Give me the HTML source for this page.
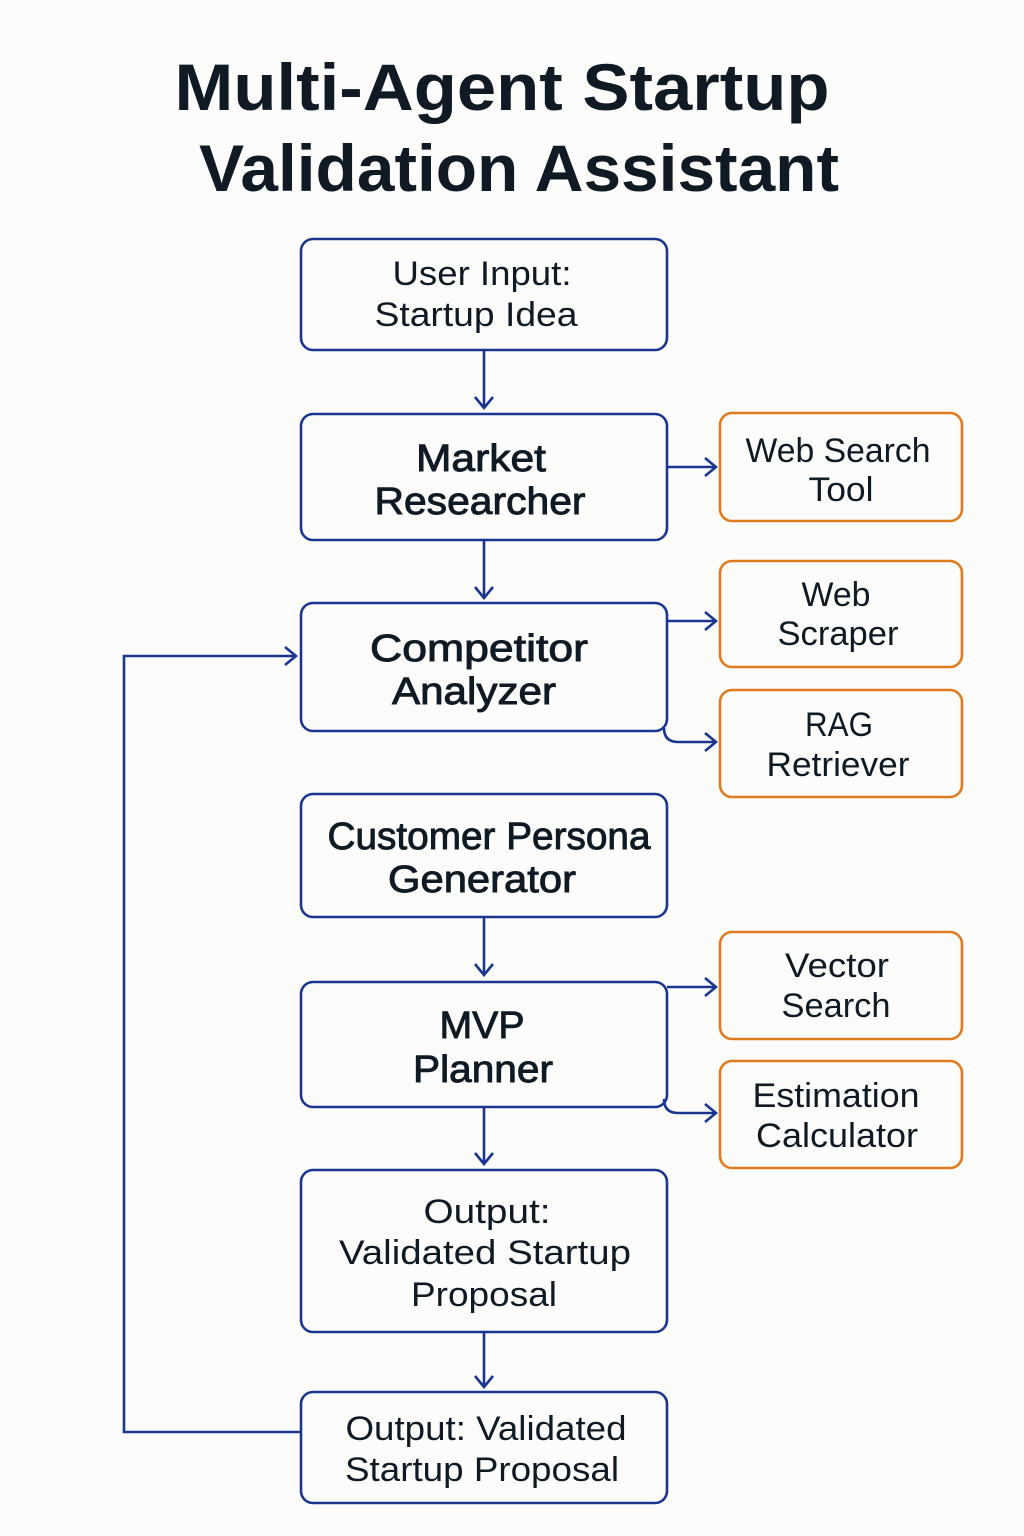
<!DOCTYPE html>
<html><head><meta charset="utf-8"><style>
html,body{margin:0;padding:0;background:#fcfcfb;}
svg{display:block}
text{font-family:"Liberation Sans",sans-serif;fill:#0f1a24;text-anchor:middle}
.t{font-weight:bold;font-size:66px}
.m{font-size:38px;stroke:#0f1a24;stroke-width:0.9px}
.r{font-size:34px}
.o{font-size:34px}
</style></head><body>
<svg width="1024" height="1536" viewBox="0 0 1024 1536">
<defs><marker id="a" markerWidth="14" markerHeight="20" refX="12" refY="10" orient="auto" markerUnits="userSpaceOnUse"><path d="M1,1 L12,10 L1,19" fill="none" stroke="#1a3590" stroke-width="2.6"/></marker></defs>
<text class="t" x="502" y="110" textLength="655" lengthAdjust="spacingAndGlyphs">Multi-Agent Startup</text>
<text class="t" x="519" y="191" textLength="640" lengthAdjust="spacingAndGlyphs">Validation Assistant</text>
<g fill="none" stroke="#1a3590" stroke-width="2.6">
<rect x="301" y="239" width="366" height="111" rx="12"/>
<rect x="301" y="414" width="366" height="126" rx="12"/>
<rect x="301" y="603" width="366" height="128" rx="12"/>
<rect x="301" y="794" width="366" height="123" rx="12"/>
<rect x="301" y="982" width="366" height="125" rx="12"/>
<rect x="301" y="1170" width="366" height="162" rx="12"/>
<rect x="301" y="1392" width="366" height="111" rx="12"/>
<path d="M484 350V408" marker-end="url(#a)"/>
<path d="M484 540V598" marker-end="url(#a)"/>
<path d="M484 917V975" marker-end="url(#a)"/>
<path d="M484 1107V1164" marker-end="url(#a)"/>
<path d="M484 1332V1387" marker-end="url(#a)"/>
<path d="M667 467H716" marker-end="url(#a)"/>
<path d="M667 621H716" marker-end="url(#a)"/>
<path d="M664 728Q664 742 678 742H716" marker-end="url(#a)"/>
<path d="M667 987H716" marker-end="url(#a)"/>
<path d="M664 1099Q664 1113 678 1113H716" marker-end="url(#a)"/>
<path d="M301 1432H124V656H296" marker-end="url(#a)"/>
</g>
<g fill="none" stroke="#e07a1f" stroke-width="2.6">
<rect x="720" y="413" width="242" height="108" rx="12"/>
<rect x="720" y="561" width="242" height="106" rx="12"/>
<rect x="720" y="690" width="242" height="107" rx="12"/>
<rect x="720" y="932" width="242" height="107" rx="12"/>
<rect x="720" y="1061" width="242" height="107" rx="12"/>
</g>
<g style="" >
<text class="r" x="482" y="285" textLength="179" lengthAdjust="spacingAndGlyphs">User Input:</text>
<text class="r" x="476" y="326" textLength="203" lengthAdjust="spacingAndGlyphs">Startup Idea</text>
<text class="m" x="481" y="471" textLength="130" lengthAdjust="spacingAndGlyphs">Market</text>
<text class="m" x="480" y="514" textLength="211" lengthAdjust="spacingAndGlyphs">Researcher</text>
<text class="m" x="479" y="661" textLength="218" lengthAdjust="spacingAndGlyphs">Competitor</text>
<text class="m" x="474" y="704" textLength="164" lengthAdjust="spacingAndGlyphs">Analyzer</text>
<text class="m" x="489" y="849" textLength="323" lengthAdjust="spacingAndGlyphs">Customer Persona</text>
<text class="m" x="482" y="892" textLength="188" lengthAdjust="spacingAndGlyphs">Generator</text>
<text class="m" x="482" y="1038" textLength="85" lengthAdjust="spacingAndGlyphs">MVP</text>
<text class="m" x="483" y="1082" textLength="140" lengthAdjust="spacingAndGlyphs">Planner</text>
<text class="r" x="487" y="1223" textLength="127" lengthAdjust="spacingAndGlyphs">Output:</text>
<text class="r" x="485" y="1264" textLength="292" lengthAdjust="spacingAndGlyphs">Validated Startup</text>
<text class="r" x="484" y="1306" textLength="146" lengthAdjust="spacingAndGlyphs">Proposal</text>
<text class="r" x="486" y="1440" textLength="281" lengthAdjust="spacingAndGlyphs">Output: Validated</text>
<text class="r" x="482" y="1481" textLength="274" lengthAdjust="spacingAndGlyphs">Startup Proposal</text>
<text class="o" x="838" y="462" textLength="185" lengthAdjust="spacingAndGlyphs">Web Search</text>
<text class="o" x="841" y="501" textLength="65" lengthAdjust="spacingAndGlyphs">Tool</text>
<text class="o" x="836" y="606" textLength="69" lengthAdjust="spacingAndGlyphs">Web</text>
<text class="o" x="838" y="645" textLength="121" lengthAdjust="spacingAndGlyphs">Scraper</text>
<text class="o" x="839" y="736" textLength="68" lengthAdjust="spacingAndGlyphs">RAG</text>
<text class="o" x="838" y="776" textLength="143" lengthAdjust="spacingAndGlyphs">Retriever</text>
<text class="o" x="837" y="977" textLength="104" lengthAdjust="spacingAndGlyphs">Vector</text>
<text class="o" x="836" y="1017" textLength="109" lengthAdjust="spacingAndGlyphs">Search</text>
<text class="o" x="836" y="1107" textLength="167" lengthAdjust="spacingAndGlyphs">Estimation</text>
<text class="o" x="837" y="1147" textLength="162" lengthAdjust="spacingAndGlyphs">Calculator</text>
</g>
</svg>
</body></html>
